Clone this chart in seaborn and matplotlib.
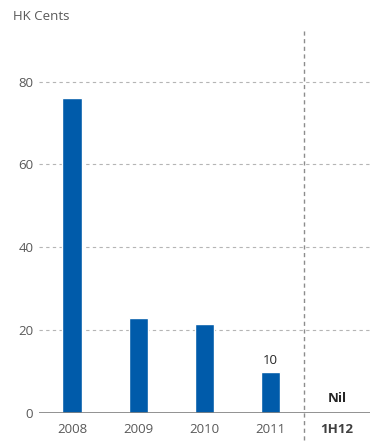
import matplotlib
matplotlib.use('Agg')
import matplotlib.pyplot as plt
import pandas as pd
import seaborn as sns

sns.set_style('white')
plt.rcParams['font.family'] = ['Open Sans', 'DejaVu Sans']

years = ['2008', '2009', '2010', '2011', '1H12']
cents = [76, 23, 21.5, 10, 0]
yticks = [0, 20, 40, 60, 80]

df = pd.DataFrame({'year': years, 'cents': cents})
blue = '#005BAA'
grey = '#595959'

fig = plt.figure(figsize=(3.7, 4.43), dpi=100)
ax = fig.add_axes([0.105, 0.0677, 0.895, 0.865])
sns.barplot(x='year', y='cents', data=df, color=blue, width=0.29,
            saturation=1, ax=ax, zorder=3)

ax.set_xlim(-0.5, 4.5)
ax.set_ylim(0, 92.5)
ax.set_yticks(yticks)
for v in yticks[1:]:
    ax.axhline(v, color='#b5b5b5', linestyle=(0, (3, 3)), linewidth=0.8, zorder=1)
ax.axhline(0, color='#7f7f7f', linewidth=1.2, zorder=4)

# divider between annual and interim
ax.plot([3.5, 3.5], [-0.07, 1.0], transform=ax.get_xaxis_transform(),
        color='#8c8c8c', linestyle=(0, (3, 2.5)), linewidth=1, clip_on=False)

for s in ax.spines.values():
    s.set_visible(False)
ax.tick_params(axis='both', length=0, labelsize=9.5, colors=grey)
ax.tick_params(axis='y', pad=4)
ax.tick_params(axis='x', pad=7)
ax.set_xlabel('')
ax.set_ylabel('')
labels = ax.get_xticklabels()
labels[-1].set_fontweight('bold')
labels[-1].set_color('#404040')

ax.text(3, cents[3] + 1, '10', ha='center', va='bottom', fontsize=9.5, color='#262626')
ax.text(4, 2, 'Nil', ha='center', va='bottom', fontsize=9.5, fontweight='bold', color='#262626')

fig.text(0.035, 0.962, 'HK Cents', ha='left', va='center', fontsize=9.5, color=grey)

fig.savefig('out.png', dpi=100)
